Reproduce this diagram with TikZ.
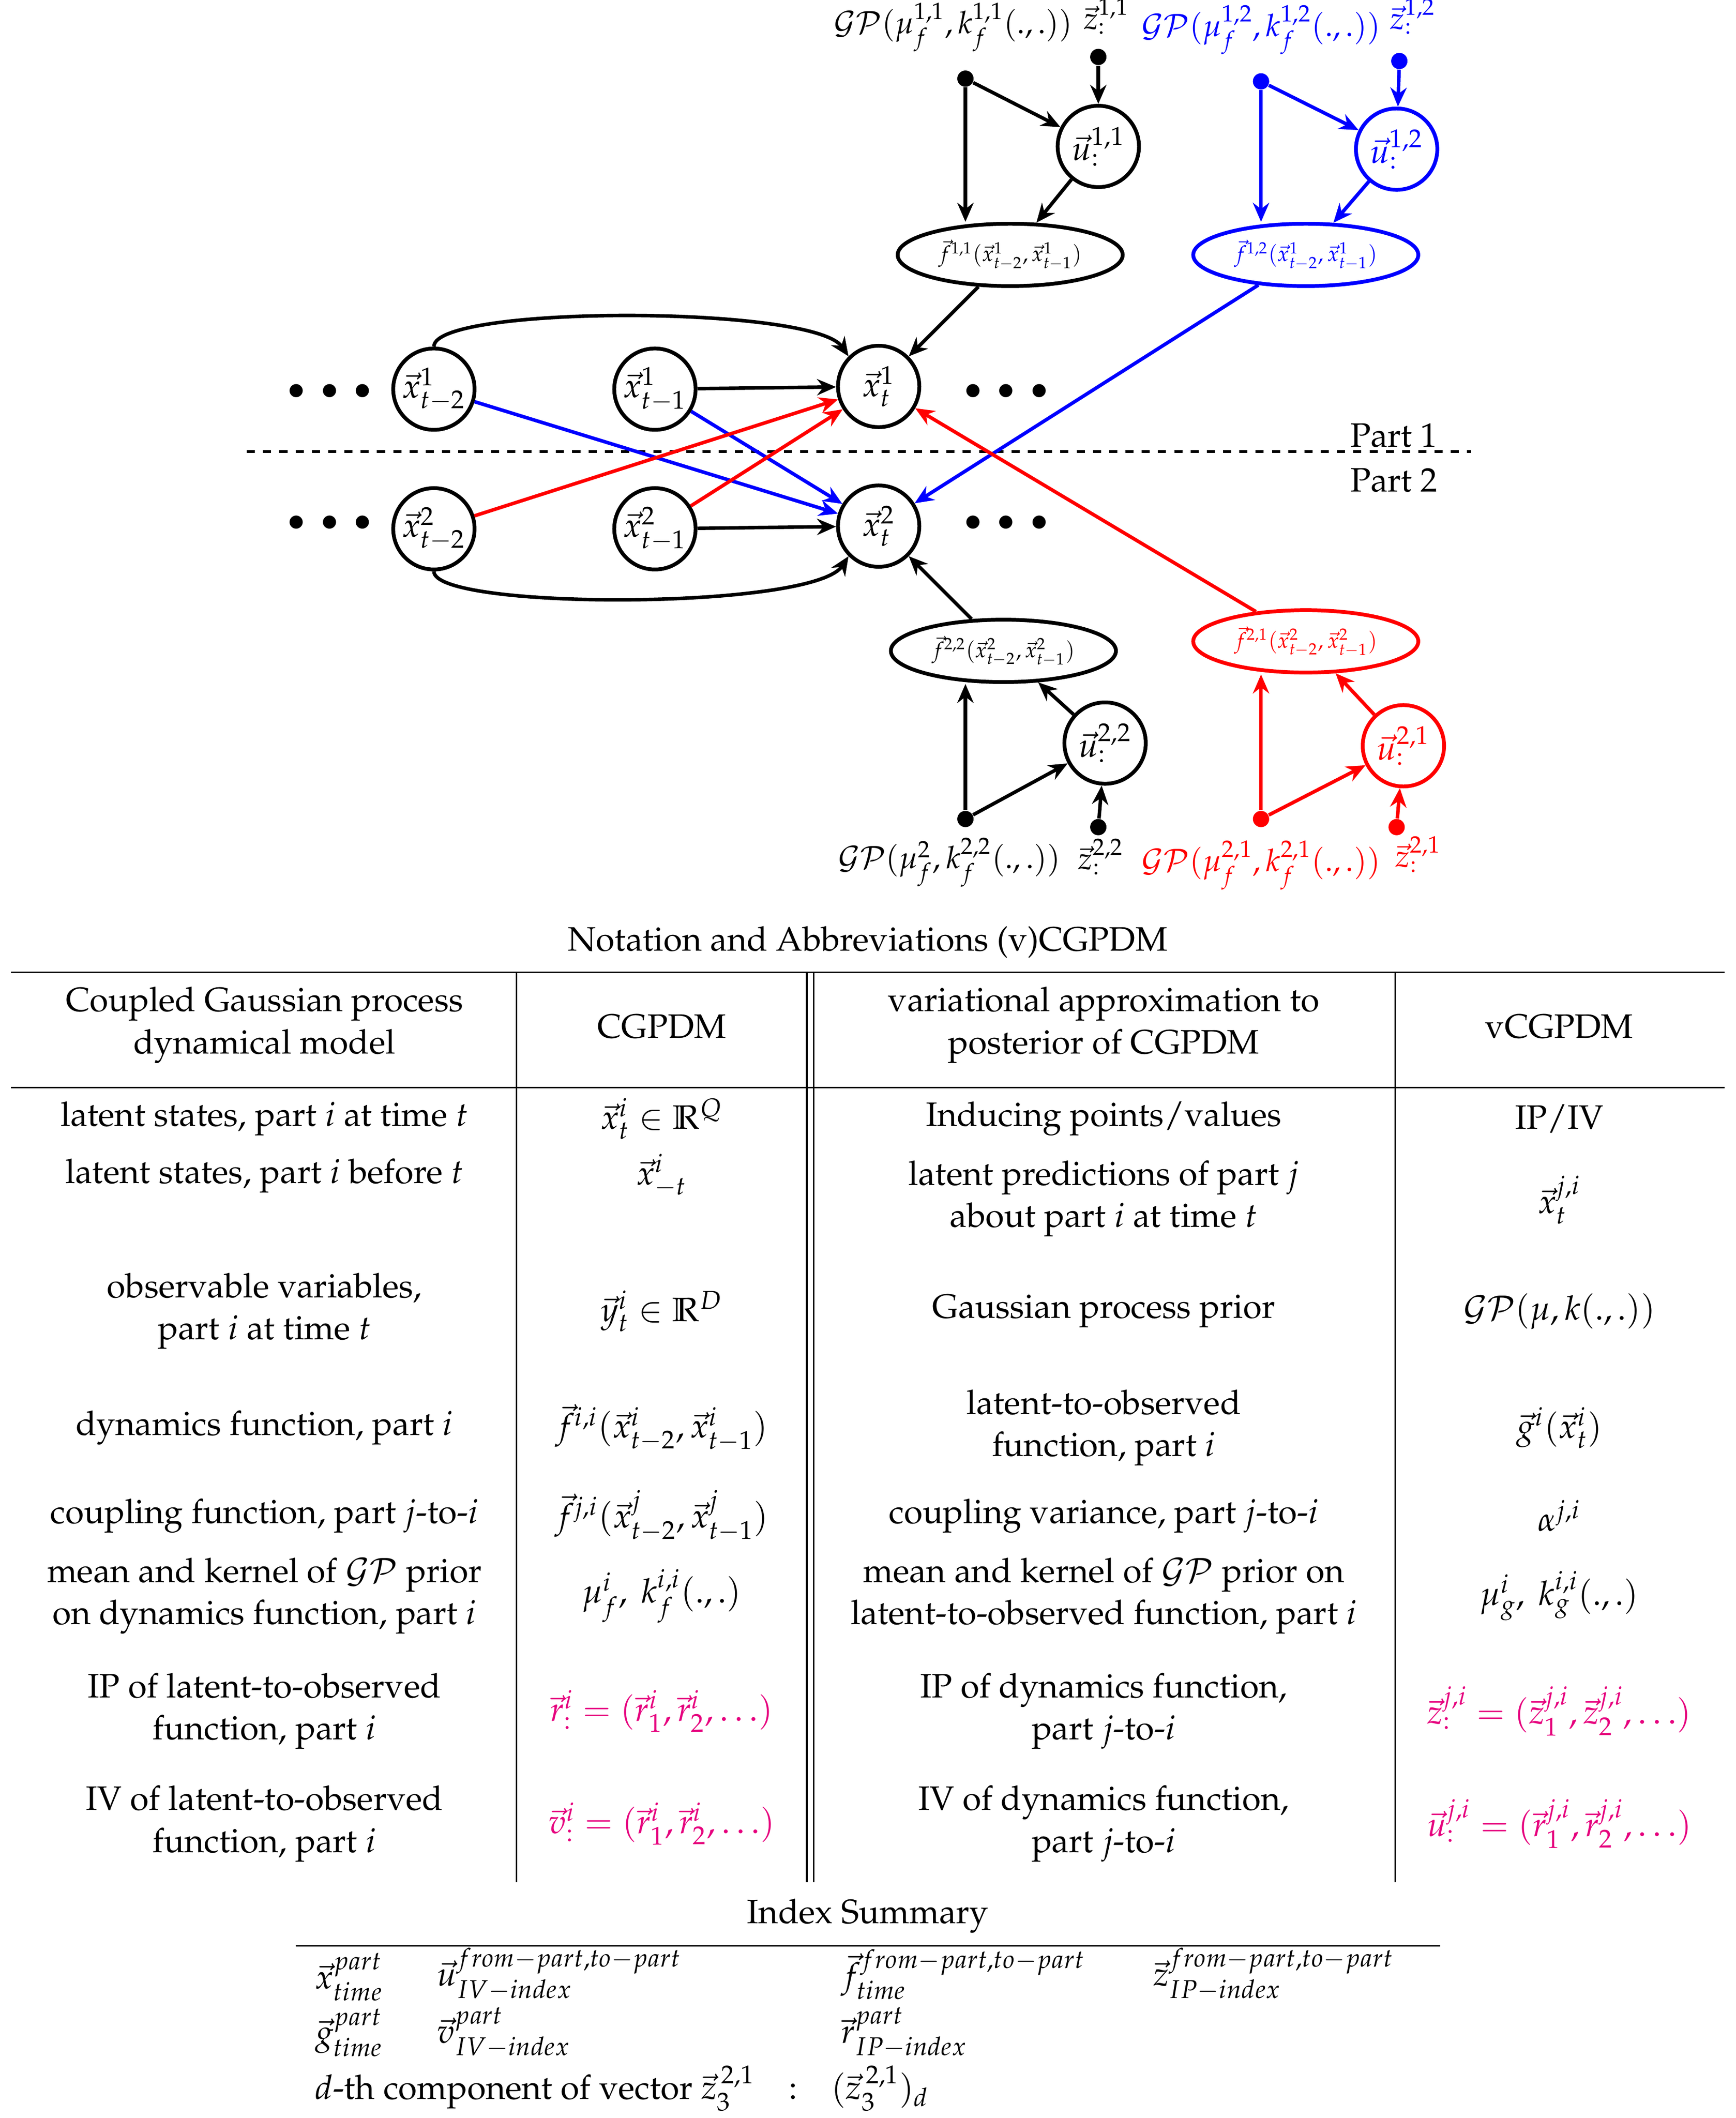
\documentclass[tikz,border=0pt]{standalone}
\usepackage[T1]{fontenc}
\usepackage{mathpazo}
\usetikzlibrary{arrows.meta,shapes.geometric}
\definecolor{mag}{RGB}{230,0,126}
\begin{document}
\fontsize{12.5}{15.5}\selectfont
\begin{tikzpicture}[x=0.5pt,y=-0.5pt,
 st/.style={circle,draw,line width=1.4pt,minimum size=30pt,inner sep=0pt},
 el/.style={ellipse,draw,line width=1.4pt,minimum width=83pt,minimum height=23pt,inner sep=0pt,font=\footnotesize},
 pt/.style={circle,fill,inner sep=0pt,minimum size=6pt},
 ar/.style={line width=1.3pt,-{Stealth[length=7pt,width=6pt]}},
 tx/.style={align=center,inner sep=0pt},
 gl/.style={inner sep=0pt,font=\fontsize{11.5}{13}\selectfont},
 dots/.style={inner sep=0pt,font=\large}]
\useasboundingbox (0,0) rectangle (1280,1562);
% latent states
\node[st] (a1) at (320,287) {$\vec x^1_{t-2}$};
\node[st] (b1) at (483,287) {$\vec x^1_{t-1}$};
\node[st] (c1) at (648,285) {$\vec x^1_{t}$};
\node[st] (a2) at (320,390) {$\vec x^2_{t-2}$};
\node[st] (b2) at (483,390) {$\vec x^2_{t-1}$};
\node[st] (c2) at (648,388) {$\vec x^2_{t}$};
\node[dots] (d1) at (243,289) {$\bullet\;\bullet\;\bullet$};
\node[dots] (d2) at (742,289) {$\bullet\;\bullet\;\bullet$};
\node[dots] (d3) at (243,386) {$\bullet\;\bullet\;\bullet$};
\node[dots] (d4) at (742,386) {$\bullet\;\bullet\;\bullet$};
\coordinate (l1) at (182,333); \coordinate (l2) at (1085,333);
\draw[dashed,line width=0.9pt] (l1) -- (l2);
\node[tx] (p1) at (1028,321) {Part 1};
\node[tx] (p2) at (1028,354) {Part 2};
% top black
\node[pt] (g11) at (712,58) {};
\node[pt] (z11) at (810,42) {};
\node[st] (u11) at (810,108) {$\vec u^{1,1}_{:}$};
\node[el] (f11) at (745,188) {$\vec f^{1,1}(\vec x^1_{t-2},\vec x^1_{t-1})$};
\node[gl] (lg11) at (703,20) {$\mathcal{GP}(\mu^{1,1}_f,k^{1,1}_f(.,.))$};
\node[gl] (lz11) at (816,12) {$\vec z^{1,1}_{:}$};
\draw[ar] (g11) -- (g11|-f11.north);
\draw[ar] (g11) -- (u11);
\draw[ar] (z11) -- (u11);
\draw[ar] (u11) -- (f11);
\draw[ar] (f11) -- (c1);
% top blue
\begin{scope}[blue]
\node[pt] (g12) at (930,60) {};
\node[pt] (z12) at (1032,45) {};
\node[st] (u12) at (1030,110) {$\vec u^{1,2}_{:}$};
\node[el] (f12) at (963,188) {$\vec f^{1,2}(\vec x^1_{t-2},\vec x^1_{t-1})$};
\node[gl] (lg12) at (930,22) {$\mathcal{GP}(\mu^{1,2}_f,k^{1,2}_f(.,.))$};
\node[gl] (lz12) at (1042,12) {$\vec z^{1,2}_{:}$};
\draw[ar] (g12) -- (g12|-f12.north);
\draw[ar] (g12) -- (u12);
\draw[ar] (z12) -- (u12);
\draw[ar] (u12) -- (f12);
\draw[ar] (f12) -- (c2);
\draw[ar] (a1) -- (c2);
\draw[ar] (b1) -- (c2);
\end{scope}
% bottom black
\node[pt] (g22) at (712,604) {};
\node[pt] (z22) at (810,610) {};
\node[st] (u22) at (815,548) {$\vec u^{2,2}_{:}$};
\node[el] (f22) at (740,480) {$\vec f^{2,2}(\vec x^2_{t-2},\vec x^2_{t-1})$};
\node[gl] (lg22) at (700,636) {$\mathcal{GP}(\mu^{2}_f,k^{2,2}_f(.,.))$};
\node[gl] (lz22) at (812,632) {$\vec z^{2,2}_{:}$};
\draw[ar] (g22) -- (g22|-f22.south);
\draw[ar] (g22) -- (u22);
\draw[ar] (z22) -- (u22);
\draw[ar] (u22) -- (f22);
\draw[ar] (f22) -- (c2);
% bottom red
\begin{scope}[red]
\node[pt] (g21) at (930,604) {};
\node[pt] (z21) at (1030,610) {};
\node[st] (u21) at (1035,550) {$\vec u^{2,1}_{:}$};
\node[el] (f21) at (963,473) {$\vec f^{2,1}(\vec x^2_{t-2},\vec x^2_{t-1})$};
\node[gl] (lg21) at (930,638) {$\mathcal{GP}(\mu^{2,1}_f,k^{2,1}_f(.,.))$};
\node[gl] (lz21) at (1046,630) {$\vec z^{2,1}_{:}$};
\draw[ar] (g21) -- (g21|-f21.south);
\draw[ar] (g21) -- (u21);
\draw[ar] (z21) -- (u21);
\draw[ar] (u21) -- (f21);
\draw[ar] (f21) -- (c1);
\draw[ar] (a2) -- (c1);
\draw[ar] (b2) -- (c1);
\end{scope}
% black temporal
\draw[ar] (b1) -- (c1);
\draw[ar] (b2) -- (c2);
\draw[ar] (a1.north) .. controls (320,225) and (600,225) .. (c1.north west);
\draw[ar] (a2.south) .. controls (320,450) and (600,450) .. (c2.south west);
% table
\node[tx] (tt) at (640,695) {Notation and Abbreviations (v)CGPDM};
\coordinate (h1) at (8,717); \coordinate (h2) at (1272,717);
\coordinate (h3) at (8,802); \coordinate (h4) at (1272,802);
\draw[line width=0.6pt] (h1) -- (h2);
\draw[line width=0.6pt] (h3) -- (h4);
\coordinate (v1a) at (381,717); \coordinate (v1b) at (381,1388);
\coordinate (v2a) at (595,717); \coordinate (v2b) at (595,1388);
\coordinate (v3a) at (600,717); \coordinate (v3b) at (600,1388);
\coordinate (v4a) at (1029,717); \coordinate (v4b) at (1029,1388);
\draw[line width=0.6pt] (v1a)--(v1b) (v2a)--(v2b) (v3a)--(v3b) (v4a)--(v4b);
\node[tx] (r0a) at (195,756) {Coupled Gaussian process\\dynamical model};
\node[tx] (r0b) at (488,757) {CGPDM};
\node[tx] (r0c) at (814,756) {variational approximation to\\posterior of CGPDM};
\node[tx] (r0d) at (1150,757) {vCGPDM};
\node[tx] (r1a) at (195,825) {latent states, part $i$ at time $t$};
\node[tx] (r1b) at (488,825) {$\vec x^i_t\in\mathbb{R}^Q$};
\node[tx] (r1c) at (814,825) {Inducing points/values};
\node[tx] (r1d) at (1150,825) {IP/IV};
\node[tx] (r2a) at (195,867) {latent states, part $i$ before $t$};
\node[tx] (r2b) at (488,867) {$\vec x^i_{-t}$};
\node[tx] (r2c) at (814,884) {latent predictions of part $j$\\about part $i$ at time $t$};
\node[tx] (r2d) at (1150,885) {$\vec x^{j,i}_t$};
\node[tx] (r3a) at (195,967) {observable variables,\\part $i$ at time $t$};
\node[tx] (r3b) at (488,967) {$\vec y^i_t\in\mathbb{R}^D$};
\node[tx] (r3c) at (814,967) {Gaussian process prior};
\node[tx] (r3d) at (1150,967) {$\mathcal{GP}(\mu,k(.,.))$};
\node[tx] (r4a) at (195,1053) {dynamics function, part $i$};
\node[tx] (r4b) at (488,1053) {$\vec f^{i,i}(\vec x^i_{t-2},\vec x^i_{t-1})$};
\node[tx] (r4c) at (814,1053) {latent-to-observed\\function, part $i$};
\node[tx] (r4d) at (1150,1053) {$\vec g^{i}(\vec x^i_{t})$};
\node[tx] (r5a) at (195,1118) {coupling function, part $j$-to-$i$};
\node[tx] (r5b) at (488,1118) {$\vec f^{j,i}(\vec x^j_{t-2},\vec x^j_{t-1})$};
\node[tx] (r5c) at (814,1118) {coupling variance, part $j$-to-$i$};
\node[tx] (r5d) at (1150,1118) {$\alpha^{j,i}$};
\node[tx] (r6a) at (195,1177) {mean and kernel of $\mathcal{GP}$ prior\\on dynamics function, part $i$};
\node[tx] (r6b) at (488,1177) {$\mu^i_f,\ k^{i,i}_f(.,.)$};
\node[tx] (r6c) at (814,1177) {mean and kernel of $\mathcal{GP}$ prior on\\latent-to-observed function, part $i$};
\node[tx] (r6d) at (1150,1177) {$\mu^i_g,\ k^{i,i}_g(.,.)$};
\node[tx] (r7a) at (195,1262) {IP of latent-to-observed\\function, part $i$};
\node[tx,mag] (r7b) at (488,1262) {$\vec r^i_{:}=(\vec r^i_1,\vec r^i_2,\dots)$};
\node[tx] (r7c) at (814,1262) {IP of dynamics function,\\part $j$-to-$i$};
\node[tx,mag] (r7d) at (1150,1262) {$\vec z^{j,i}_{:}=(\vec z^{j,i}_1,\vec z^{j,i}_2,\dots)$};
\node[tx] (r8a) at (195,1345) {IV of latent-to-observed\\function, part $i$};
\node[tx,mag] (r8b) at (488,1345) {$\vec v^i_{:}=(\vec r^i_1,\vec r^i_2,\dots)$};
\node[tx] (r8c) at (814,1345) {IV of dynamics function,\\part $j$-to-$i$};
\node[tx,mag] (r8d) at (1150,1345) {$\vec u^{j,i}_{:}=(\vec r^{j,i}_1,\vec r^{j,i}_2,\dots)$};
% index summary
\node[tx] (is) at (640,1413) {Index Summary};
\coordinate (i1) at (218,1435); \coordinate (i2) at (1062,1435);
\draw[line width=0.6pt] (i1) -- (i2);
\node[anchor=west,inner sep=0pt] (s1) at (232,1458) {$\vec x^{part}_{time}$};
\node[anchor=west,inner sep=0pt] (s2) at (322,1456) {$\vec u^{from-part,to-part}_{IV-index}$};
\node[anchor=west,inner sep=0pt] (s3) at (620,1456) {$\vec f^{from-part,to-part}_{time}$};
\node[anchor=west,inner sep=0pt] (s4) at (850,1456) {$\vec z^{from-part,to-part}_{IP-index}$};
\node[anchor=west,inner sep=0pt] (s5) at (232,1499) {$\vec g^{part}_{time}$};
\node[anchor=west,inner sep=0pt] (s6) at (322,1499) {$\vec v^{part}_{IV-index}$};
\node[anchor=west,inner sep=0pt] (s7) at (620,1499) {$\vec r^{part}_{IP-index}$};
\node[anchor=west,inner sep=0pt] (s8) at (232,1540) {$d$-th component of vector $\vec z^{\,2,1}_3$\quad:\quad$(\vec z^{\,2,1}_3)_d$};
\end{tikzpicture}
\end{document}
